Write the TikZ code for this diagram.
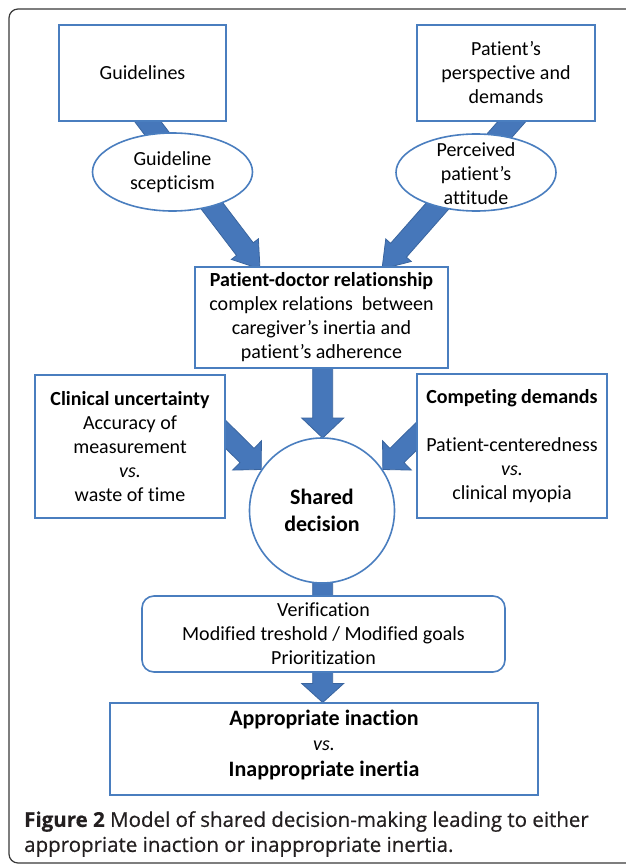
\documentclass[tikz,border=0pt]{standalone}
\usepackage{fontspec}
\setmainfont{Carlito}[Ligatures=NoCommon]
\newfontfamily\capfont{Open Sans}[FakeBold=0.5]
\usetikzlibrary{calc,shapes.geometric}
\pgfdeclarelayer{bg}
\pgfsetlayers{bg,main}
\definecolor{boxblue}{HTML}{4A7EBF}
\definecolor{arrfill}{HTML}{4677BA}
\definecolor{arrline}{HTML}{3A659F}
\definecolor{framegray}{HTML}{3A3A3A}
\definecolor{captext}{HTML}{231F20}
% block arrow: #1 tail, #2 tip, #3 shaft half width, #4 head half width, #5 head length
\newcommand\blockarr[5]{%
  \coordinate (hb) at ($(#2)!#5!(#1)$);
  \filldraw[fill=arrfill,draw=arrline,line width=0.8pt,line join=miter]
    ($(#1)!#3!90:(#2)$) -- ($(hb)!#3!-90:(#1)$) -- ($(hb)!#4!-90:(#1)$) -- (#2)
    -- ($(hb)!#4!90:(#1)$) -- ($(hb)!#3!90:(#1)$) -- ($(#1)!#3!-90:(#2)$) -- cycle;
}
\begin{document}
\begin{tikzpicture}[x=1pt,y=-1pt,
  bx/.style={draw=boxblue,line width=1.6pt,fill=white,align=center,inner sep=0pt,
    font=\fontsize{20}{24}\selectfont},
  ell/.style={ellipse,draw=boxblue,line width=1.6pt,fill=white,inner sep=0pt},
  txt/.style={align=center,inner sep=0pt,font=\fontsize{20}{24}\selectfont},
]
\useasboundingbox (0,0) rectangle (625,867);

% nodes
\node[bx,minimum width=167pt,minimum height=96pt] (guide) at (142.5,73) {Guidelines};
\node[bx,minimum width=178pt,minimum height=96pt] (persp) at (506,73) {Patient’s\\perspective and\\demands};
\node[ell,minimum width=160pt,minimum height=78pt] (scep) at (172.5,172) {};
\node[txt] (scepT) at (scep.center) {Guideline\\scepticism};
\node[ell,minimum width=160pt,minimum height=77pt] (perc) at (476,172.5) {};
\node[txt] (percT) at (476,174) {Perceived\\patient’s\\attitude};
\node[bx,minimum width=253pt,minimum height=101pt] (pdr) at (321.5,317.5)
  {\textbf{Patient-doctor relationship}\\complex relations\ \ between\\caregiver’s inertia and\\patient’s adherence};
\node[bx,minimum width=190pt,minimum height=143pt] (clin) at (130,446.5)
  {\textbf{Clinical uncertainty}\\Accuracy of\\measurement\\\textit{vs.}\\waste of time};
\node[bx,minimum width=190pt,minimum height=144pt] (comp) at (512,446)
  {\textbf{Competing demands}\\[24pt]Patient-centeredness\\\textit{vs.}\\clinical myopia};
\node[circle,draw=boxblue,line width=1.6pt,fill=white,minimum size=145pt,inner sep=0pt,
  align=center,font=\fontsize{22}{27}\selectfont\bfseries] (dec) at (322,510.5) {Shared\\decision};
\node[bx,rounded corners=12pt,minimum width=363pt,minimum height=76pt] (verif) at (323.5,634)
  {Verification\\Modified treshold / Modified goals\\Prioritization};
\node[bx,minimum width=428pt,minimum height=92pt] (final) at (324,749) {};
\node[txt,font=\fontsize{20}{25.5}\selectfont] (finalT) at (324,745)
  {{\fontsize{22}{25.5}\selectfont\bfseries Appropriate inaction}\\\textit{vs.}\\{\fontsize{22}{25.5}\selectfont\bfseries Inappropriate inertia}};
\node[anchor=west,align=left,inner sep=0pt,text=captext,
  font=\capfont\fontsize{20.5}{25}\selectfont] (cap) at (24,834)
  {\textbf{Figure 2} Model of shared decision-making leading to either\\appropriate inaction or inappropriate inertia.};

% connector end points
\coordinate (gA) at (139,110);
\coordinate (gB) at (260,269);
\coordinate (pA) at (522,110);
\coordinate (pB) at (382,269);
\coordinate (mA) at (322.7,355);
\coordinate (mB) at (322.7,438);
\coordinate (cA) at (203,412);
\coordinate (kA) at (441,412);
\coordinate (vA) at (322.7,520);
\coordinate (vB) at (322.7,640);
\coordinate (fA) at (322.7,660);
\coordinate (fB) at (322.7,702.5);

\begin{pgfonlayer}{bg}
  \fill[white] (0,0) rectangle (625,867);
  \draw[framegray,line width=1.2pt,rounded corners=9pt] (9,9) rectangle (680,863);
  \blockarr{gA}{gB}{10.5pt}{17pt}{25pt}
  \blockarr{pA}{pB}{10.5pt}{17pt}{25pt}
  \blockarr{mA}{mB}{10pt}{21pt}{20pt}
  \blockarr{cA}{dec.146}{10pt}{20.5pt}{20pt}
  \blockarr{kA}{dec.34}{10pt}{20.5pt}{20pt}
  \blockarr{vA}{vB}{10pt}{10pt}{1pt}
  \blockarr{fA}{fB}{10pt}{21pt}{19pt}
\end{pgfonlayer}
\end{tikzpicture}
\end{document}
